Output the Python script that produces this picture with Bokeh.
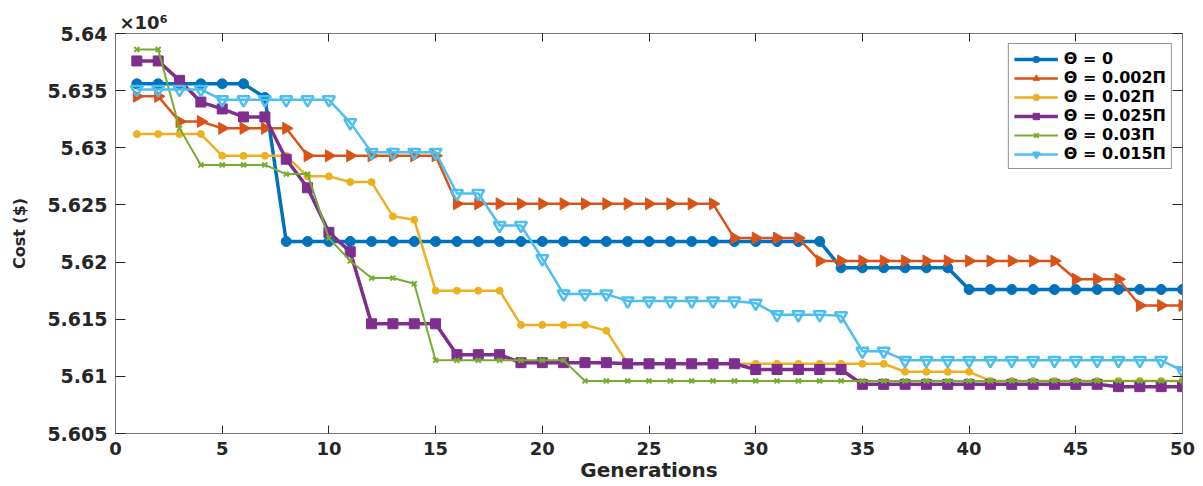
import math
from bokeh.plotting import figure
from bokeh.models import LinearAxis, FixedTicker, CustomJSTickFormatter, Range1d
from bokeh.embed import file_html
from bokeh.resources import INLINE

# ---------------- data ----------------
generations = list(range(1, 51))

series_names = ["Θ = 0", "Θ = 0.002Π", "Θ = 0.02Π", "Θ = 0.025Π", "Θ = 0.03Π", "Θ = 0.015Π"]

# cost values in units of 10^6 $
cost_theta_0 = [5.6356, 5.6356, 5.6356, 5.6356, 5.6356, 5.6356, 5.6344, 5.6218, 5.6218, 5.6218,
                5.6218, 5.6218, 5.6218, 5.6218, 5.6218, 5.6218, 5.6218, 5.6218, 5.6218, 5.6218,
                5.6218, 5.6218, 5.6218, 5.6218, 5.6218, 5.6218, 5.6218, 5.6218, 5.6218, 5.6218,
                5.6218, 5.6218, 5.6218, 5.6195, 5.6195, 5.6195, 5.6195, 5.6195, 5.6195, 5.6176,
                5.6176, 5.6176, 5.6176, 5.6176, 5.6176, 5.6176, 5.6176, 5.6176, 5.6176, 5.6176]

cost_theta_0002 = [5.6345, 5.6345, 5.6323, 5.6323, 5.6317, 5.6317, 5.6317, 5.6317, 5.6293, 5.6293,
                   5.6293, 5.6293, 5.6293, 5.6293, 5.6293, 5.6251, 5.6251, 5.6251, 5.6251, 5.6251,
                   5.6251, 5.6251, 5.6251, 5.6251, 5.6251, 5.6251, 5.6251, 5.6251, 5.6221, 5.6221,
                   5.6221, 5.6221, 5.6201, 5.6201, 5.6201, 5.6201, 5.6201, 5.6201, 5.6201, 5.6201,
                   5.6201, 5.6201, 5.6201, 5.6201, 5.6185, 5.6185, 5.6185, 5.6162, 5.6162, 5.6162]

cost_theta_002 = [5.6312, 5.6312, 5.6312, 5.6312, 5.6293, 5.6293, 5.6293, 5.6293, 5.6275, 5.6275,
                  5.6270, 5.6270, 5.6240, 5.6237, 5.6175, 5.6175, 5.6175, 5.6175, 5.6145, 5.6145,
                  5.6145, 5.6145, 5.6140, 5.6111, 5.6111, 5.6111, 5.6111, 5.6111, 5.6111, 5.6111,
                  5.6111, 5.6111, 5.6111, 5.6111, 5.6111, 5.6111, 5.6104, 5.6104, 5.6104, 5.6104,
                  5.6096, 5.6096, 5.6096, 5.6096, 5.6096, 5.6096, 5.6096, 5.6096, 5.6096, 5.6096]

cost_theta_0025 = [5.6376, 5.6376, 5.6359, 5.6340, 5.6334, 5.6327, 5.6327, 5.6290, 5.6265, 5.6226,
                   5.6209, 5.6146, 5.6146, 5.6146, 5.6146, 5.6119, 5.6119, 5.6119, 5.6112, 5.6112,
                   5.6112, 5.6112, 5.6112, 5.6111, 5.6111, 5.6111, 5.6111, 5.6111, 5.6111, 5.6106,
                   5.6106, 5.6106, 5.6106, 5.6106, 5.6093, 5.6093, 5.6093, 5.6093, 5.6093, 5.6093,
                   5.6093, 5.6093, 5.6093, 5.6093, 5.6093, 5.6093, 5.6091, 5.6091, 5.6091, 5.6091]

cost_theta_003 = [5.6386, 5.6386, 5.6317, 5.6285, 5.6285, 5.6285, 5.6285, 5.6277, 5.6277, 5.6221,
                  5.6201, 5.6186, 5.6186, 5.6181, 5.6114, 5.6114, 5.6114, 5.6114, 5.6114, 5.6114,
                  5.6114, 5.6096, 5.6096, 5.6096, 5.6096, 5.6096, 5.6096, 5.6096, 5.6096, 5.6096,
                  5.6096, 5.6096, 5.6096, 5.6096, 5.6096, 5.6096, 5.6096, 5.6096, 5.6096, 5.6096,
                  5.6096, 5.6096, 5.6096, 5.6096, 5.6096, 5.6096, 5.6096, 5.6096, 5.6096, 5.6096]

cost_theta_0015 = [5.6351, 5.6351, 5.6351, 5.6351, 5.6342, 5.6342, 5.6342, 5.6342, 5.6342, 5.6342,
                   5.6322, 5.6296, 5.6296, 5.6296, 5.6296, 5.6260, 5.6260, 5.6232, 5.6232, 5.6203,
                   5.6172, 5.6172, 5.6172, 5.6166, 5.6166, 5.6166, 5.6166, 5.6166, 5.6166, 5.6164,
                   5.6154, 5.6154, 5.6154, 5.6153, 5.6122, 5.6122, 5.6114, 5.6114, 5.6114, 5.6114,
                   5.6114, 5.6114, 5.6114, 5.6114, 5.6114, 5.6114, 5.6114, 5.6114, 5.6114, 5.6105]

all_series = [cost_theta_0, cost_theta_0002, cost_theta_002, cost_theta_0025, cost_theta_003, cost_theta_0015]

x_ticks = [0, 5, 10, 15, 20, 25, 30, 35, 40, 45, 50]
y_ticks = [5.605, 5.61, 5.615, 5.62, 5.625, 5.63, 5.635, 5.64]

# ---------------- styling ----------------
styles = [
    dict(color="#0072BD", lw=3.5, marker="circle", size=10, angle=0.0, fill=True, mlw=1),
    dict(color="#D95319", lw=2.5, marker="triangle", size=12, angle=-math.pi / 2, fill=True, mlw=1),
    dict(color="#EDB120", lw=2.5, marker="circle", size=7, angle=0.0, fill=True, mlw=1),
    dict(color="#7E2F8E", lw=3.5, marker="square", size=10, angle=0.0, fill=True, mlw=1),
    dict(color="#77AC30", lw=2.0, marker="x", size=7, angle=0.0, fill=True, mlw=2),
    dict(color="#4DBEEE", lw=2.5, marker="inverted_triangle", size=12, angle=0.0, fill=False, mlw=2.5),
]

AX = "#262626"
TICK_FONT = "DejaVu Sans"

p = figure(width=1195, height=484, output_backend="svg", toolbar_location=None,
           x_range=Range1d(0, 50), y_range=Range1d(5.605, 5.64),
           min_border_left=115, min_border_right=13, min_border_top=33, min_border_bottom=49)
p.background_fill_color = "white"
p.border_fill_color = "white"
p.outline_line_color = None
p.xgrid.visible = False
p.ygrid.visible = False

# exponent shown above the y axis (MATLAB style)
p.title.text = "×10⁶"
p.title.align = "left"
p.title.offset = 4
p.title.standoff = 2
p.title.text_font = "DejaVu Sans"
p.title.text_font_style = "bold"
p.title.text_font_size = "18px"
p.title.text_color = AX

for name, ys, st in zip(series_names, all_series, styles):
    p.line(generations, ys, line_color=st["color"], line_width=st["lw"], legend_label=name)
    p.scatter(generations, ys, marker=st["marker"], size=st["size"], angle=st["angle"],
              line_color=st["color"], line_width=st["mlw"],
              fill_color=st["color"] if st["fill"] else None,
              legend_label=name)

fmt = CustomJSTickFormatter(code="return (Math.round(tick*1000)/1000).toString();")

xa = p.xaxis[0]
xa.ticker = FixedTicker(ticks=x_ticks)
ya = p.yaxis[0]
ya.ticker = FixedTicker(ticks=y_ticks)
ya.formatter = fmt

for ax, tin in ((xa, 8), (ya, 10)):
    ax.axis_line_color = "#7a7a7a"
    ax.axis_line_width = 1
    ax.major_tick_line_color = AX
    ax.major_tick_in = tin
    ax.major_tick_out = 0
    ax.minor_tick_line_color = None
    ax.major_label_text_font = TICK_FONT
    ax.major_label_text_font_style = "bold"
    ax.major_label_text_color = AX

xa.major_label_text_font_size = "18px"
xa.major_label_standoff = 8
ya.major_label_text_font_size = "19px"
ya.major_label_standoff = 8

xa.axis_label = "Generations"
xa.axis_label_text_font = "DejaVu Sans"
xa.axis_label_text_font_style = "bold"
xa.axis_label_text_font_size = "20px"
xa.axis_label_text_color = AX
xa.axis_label_standoff = 0

ya.axis_label = "Cost ($)"
ya.axis_label_text_font = "DejaVu Sans"
ya.axis_label_text_font_style = "bold"
ya.axis_label_text_font_size = "16px"
ya.axis_label_text_color = AX
ya.axis_label_standoff = 15

# mirrored axes (box on)
top = LinearAxis(ticker=FixedTicker(ticks=x_ticks))
right = LinearAxis(ticker=FixedTicker(ticks=y_ticks))
for ax, tin in ((top, 8), (right, 10)):
    ax.axis_line_color = "#7a7a7a"
    ax.major_tick_line_color = AX
    ax.major_tick_in = tin
    ax.major_tick_out = 0
    ax.minor_tick_line_color = None
    ax.major_label_text_font_size = "0px"
    ax.major_label_standoff = 0
p.add_layout(top, "above")
p.add_layout(right, "right")

lg = p.legend[0]
lg.location = "top_right"
lg.margin = 10
lg.padding = 5
lg.spacing = 0
lg.label_height = 16
lg.glyph_height = 16
lg.glyph_width = 44
lg.label_standoff = 6
lg.label_text_font = "DejaVu Sans"
lg.label_text_font_style = "bold"
lg.label_text_font_size = "16px"
lg.label_text_color = "black"
lg.border_line_color = AX
lg.border_line_width = 1
lg.background_fill_color = "white"
lg.background_fill_alpha = 1.0

open("out.html", "w").write(file_html(p, INLINE))
